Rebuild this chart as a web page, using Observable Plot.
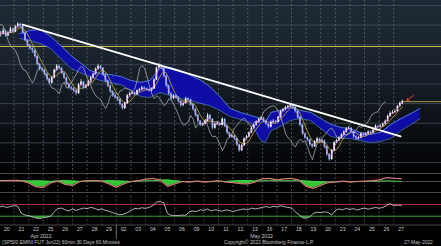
<!DOCTYPE html>
<html><head><meta charset="utf-8">
<script src="https://cdn.jsdelivr.net/npm/d3@7"></script>
<script src="https://cdn.jsdelivr.net/npm/@observablehq/plot@0.6"></script>
<style>
html,body{margin:0;padding:0;background:#000;}
#chart{position:relative;width:441px;height:246px;background:#000;overflow:hidden;font-family:"Liberation Sans",Arial,sans-serif;}
#bg{position:absolute;left:0;top:0;width:441px;height:172px;background:linear-gradient(#1f2a36 0%,#18212b 40%,#0a0d11 80%,#020304 100%);}
.p{position:absolute;left:0;display:block;}
.cap{position:absolute;font-size:4.9px;color:#c4c4c4;white-space:nowrap;line-height:1;}
</style></head><body>
<div id="chart"><div id="bg"></div></div>
<script>
// ---------- data ----------
const dayLabels = ["20","21","22","25","26","27","28","29","02","03","04","05","06","09","10","11","12","13","16","17","18","19","20","23","24","25","26","27"];
const monthLabels = ["Apr 2022","May 2022"];
const monthLabelDays = [2.85, 17.95];
const monthStartDays = [8];
const priceGrid = [3800,3900,4000,4100,4200,4300,4400,4500,4600];
const levelLine = [4391];
const barsPerDay = 6;
const barClose = [
 4455,4470,4445,4460,4480,4465, 4490,4505,4495,4460,4420,4395, 4380,4370,4340,4300,4275,4270,
 4250,4225,4205,4230,4270,4290, 4280,4255,4230,4200,4180,4175, 4165,4150,4195,4210,4180,4190,
 4210,4230,4250,4275,4290,4280, 4245,4215,4190,4160,4140,4130, 4120,4095,4075,4100,4140,4150,
 4155,4145,4165,4170,4180,4175, 4170,4165,4175,4220,4280,4295, 4280,4240,4190,4150,4125,4140,
 4130,4110,4090,4100,4125,4120, 4095,4070,4040,4010,3990,3995, 4010,4040,4020,3975,3995,4000,
 3990,4020,3985,3950,3930,3935, 3920,3890,3860,3885,3920,3930, 3950,3975,3990,4005,4020,4025,
 4010,3995,3980,4005,4010,4005, 4030,4060,4070,4080,4085,4090, 4080,4060,4030,3990,3945,3925,
 3915,3890,3880,3905,3920,3905, 3910,3880,3840,3815,3860,3900, 3910,3925,3940,3955,3970,3975,
 3955,3930,3920,3925,3945,3940, 3945,3955,3950,3965,3985,3980, 3985,3995,4010,4035,4050,4055,
 4060,4085,4100,4110];
const barHigh = [
 4468,4482,4474,4466,4490,4485, 4498,4512,4508,4498,4462,4425, 4402,4392,4378,4345,4305,4285,
 4275,4256,4230,4238,4276,4298, 4296,4284,4260,4234,4205,4188, 4182,4170,4202,4222,4214,4198,
 4218,4238,4256,4282,4298,4294, 4284,4252,4220,4195,4166,4148, 4136,4126,4100,4106,4146,4158,
 4162,4160,4170,4178,4188,4186, 4180,4176,4180,4226,4286,4305, 4300,4284,4244,4194,4155,4146,
 4146,4136,4114,4108,4132,4130, 4122,4100,4076,4046,4014,4002, 4018,4050,4046,4024,4002,4010,
 4004,4028,4024,3990,3954,3942, 3940,3926,3894,3892,3926,3938, 3956,3982,3996,4012,4026,4034,
 4030,4018,4000,4012,4018,4014, 4036,4066,4076,4086,4092,4098, 4094,4086,4064,4034,3996,3950,
 3930,3920,3896,3912,3928,3924, 3918,3914,3884,3846,3866,3906, 3918,3932,3948,3962,3978,3984,
 3978,3960,3936,3932,3952,3950, 3952,3962,3960,3972,3992,3990, 3992,4002,4016,4042,4058,4064,
 4068,4092,4108,4118];
const barLow = [
 4440,4450,4438,4442,4458,4460, 4462,4486,4485,4455,4415,4388, 4372,4355,4332,4292,4265,4260,
 4242,4215,4198,4200,4226,4265, 4272,4250,4224,4192,4172,4165, 4155,4142,4148,4190,4172,4176,
 4186,4204,4226,4245,4270,4272, 4238,4206,4182,4152,4132,4122, 4112,4088,4066,4070,4096,4134,
 4144,4138,4140,4158,4166,4168, 4162,4158,4160,4172,4218,4276, 4274,4232,4182,4142,4112,4120,
 4122,4102,4080,4085,4098,4112, 4088,4062,4032,4000,3982,3984, 3992,4006,4012,3966,3970,3990,
 3982,3986,3978,3942,3922,3924, 3912,3882,3852,3856,3880,3914, 3926,3946,3970,3986,4000,4014,
 4002,3988,3972,3976,3998,3998, 4002,4026,4056,4064,4074,4080, 4072,4052,4022,3982,3938,3918,
 3906,3882,3870,3876,3900,3898, 3900,3872,3832,3807,3812,3856, 3896,3906,3920,3936,3950,3966,
 3948,3922,3912,3914,3920,3932, 3934,3940,3942,3946,3962,3972, 3976,3980,3990,4006,4030,4044,
 4050,4056,4080,4094];
const chikouShiftDays = 1.15;
const cloudDays = [1.4,2.1,2.8,3.5,4.2,4.9,5.5,6.2,6.9,7.6,8.3,9.0,9.7,10.3,11.0,11.7,12.4,13.1,13.8,14.4,
 15.1,15.8,16.5,17.2,17.9,18.2,18.6,19.2,19.9,20.6,21.3,22.0,22.7,23.4,24.0,24.7,25.4,26.1,26.8,27.5,28.2,28.8];
const cloudTop = [4457,4473,4478,4442,4396,4345,4310,4269,4253,4248,4238,4218,4208,4218,4279,4284,4269,4243,4218,4187,
 4136,4075,4055,4040,4024,4004,4055,4065,4080,4065,4055,4024,3994,3978,3973,3953,3943,3953,3994,4024,4050,4075];
const cloudBottom = [4432,4422,4406,4381,4330,4279,4259,4238,4218,4208,4197,4167,4136,4131,4157,4141,4126,4116,4101,4090,
 4065,4034,4019,4004,3912,3902,3963,3983,4014,4024,4014,3973,3933,3922,3922,3912,3902,3907,3922,3963,3994,4024];
const trendDays = [1.58, 27.47];
const trendPrices = [4503, 3933];
const lastPrice = 4110;
const lastPriceDay = 27.67;
const arrowFrom = {day: 28.36, price: 4141};
const arrowTo = {day: 27.88, price: 4116};
const osc1Step = 0.5;
const osc1Pink = [63,63,64,62,50,30,27,50,60,42,37,57,62,63,60,45,27,45,58,62,70,74,66,32,45,58,55,60,
 55,58,62,55,52,47,45,55,72,74,66,72,74,65,32,22,38,52,56,60,55,58,60,62,66,78,75,72];
const osc1Green = [62,62,63,62,60,61,60,58,61,62,60,58,60,60,61,62,61,59,58,60,62,63,64,66,62,58,57,58,
 58,57,58,58,60,62,63,60,62,64,63,62,63,62,60,58,56,54,56,57,58,57,58,59,60,62,60,58];
const osc1Grid = [100, 58, 0];
const rsiStep = 0.25;
const rsi = [62,64,60,63, 66,64,40,34, 32,28,24,22, 25,27,30,45, 56,58,52,48, 55,50,54,58, 56,60,57,52,
 55,50,47,42, 38,35,37,42, 50,57,55,59, 57,60,66,78, 80,76,40,33, 33,32,34,33, 45,48,46,52, 50,55,48,52,
 50,47,52,49, 46,50,53,55, 52,58,55,57, 60,63,60,64, 62,66,63,60, 58,45,36,25, 23,28,40,44, 42,45,43,34,
 50,55,52,57, 53,56,51,55, 58,54,57,60, 57,60,66,73, 66,68,67];
const rsiHigh = 70, rsiLow = 30;

// ---------- tables ----------
const bars = barClose.map((c, i) => ({
  day: Math.floor(i / barsPerDay) + (i % barsPerDay + 0.5) / barsPerDay,
  open: i === 0 ? c : barClose[i - 1],
  close: c, high: barHigh[i], low: barLow[i],
  up: i === 0 || c >= barClose[i - 1]
}));
const cloud = cloudDays.map((d, i) => ({day: d, top: cloudTop[i], bottom: cloudBottom[i]}));
const trend = trendDays.map((d, i) => ({day: d, price: trendPrices[i]}));
const osc1 = osc1Pink.map((p, i) => ({day: i * osc1Step, pink: p, green: osc1Green[i]}));
const rsiData = rsi.map((v, i) => ({day: i * rsiStep, v}));
const gridDays = dayLabels.map((_, i) => i);
const labelData = dayLabels.map((t, i) => ({day: i + 0.5, t}));
const monthData = monthLabels.map((t, i) => ({day: monthLabelDays[i], t}));

const xDomain = [0.07, 30.27];
const W = 441;
const FONT = '"Liberation Sans", Arial, sans-serif';
const chart = document.getElementById("chart");
function place(svg, top) { svg.classList.add("p"); svg.style.top = top + "px"; chart.appendChild(svg); }
const vgrid = (opts = {}) => Plot.ruleX(gridDays, {stroke: "#656b73", strokeWidth: 0.7, strokeDasharray: "2,2", ...opts});

// ---------- main price panel ----------
const main = Plot.plot({
  width: W, height: 172, marginTop: 0, marginBottom: 0, marginLeft: 0, marginRight: 0,
  style: {background: "transparent", overflow: "visible"},
  x: {domain: xDomain, axis: null},
  y: {domain: [3749, 4625.5], axis: null},
  color: {type: "identity"},
  marks: [
    Plot.ruleY(priceGrid, {stroke: "#434e5a", strokeWidth: 0.8}),
    vgrid(),
    Plot.ruleY(levelLine, {stroke: "#c9b847", strokeWidth: 1}),
    Plot.areaY(cloud, {x: "day", y1: "bottom", y2: "top", fill: "#0e0ea6"}),
    Plot.lineY(cloud, {x: "day", y: "top", stroke: "#6fa8ee", strokeWidth: 0.7}),
    Plot.lineY(cloud, {x: "day", y: "bottom", stroke: "#4f7fd8", strokeWidth: 0.7}),
    Plot.lineY(bars, {x: d => d.day - chikouShiftDays, y: "close", stroke: "#a8a8a8", strokeWidth: 0.8}),
    Plot.lineY(bars, Plot.windowY({k: 5, anchor: "end", reduce: "mean"}, {x: "day", y: "close", stroke: "#c8b030", strokeWidth: 0.8})),
    Plot.ruleX(bars, {x: "day", y1: "low", y2: "high", stroke: d => d.up ? "#eef2ff" : "#6cbcff", strokeWidth: 0.8}),
    Plot.ruleX(bars, {x: "day", y1: "open", y2: "close", stroke: d => d.up ? "#ffffff" : "#8ccaff", strokeWidth: 1.6}),
    Plot.lineY(bars, Plot.windowY({k: 2, anchor: "end", reduce: "mean"}, {x: "day", y: "close", stroke: "#e07ad8", strokeWidth: 0.8})),
    Plot.lineY(trend, {x: "day", y: "price", stroke: "#ffffff", strokeWidth: 1.8}),
    Plot.ruleY([{p: lastPrice, a: lastPriceDay, b: 31}], {y: "p", x1: "a", x2: "b", stroke: "#b9a54a", strokeWidth: 0.9}),
    Plot.arrow([{x1: arrowFrom.day, y1: arrowFrom.price, x2: arrowTo.day, y2: arrowTo.price}],
      {x1: "x1", y1: "y1", x2: "x2", y2: "y2", stroke: "#d23a2a", strokeWidth: 1, headLength: 4})
  ]
});
place(main, 0);

// ---------- oscillator 1 ----------
const p1 = Plot.plot({
  width: W, height: 23, marginTop: 1, marginBottom: 3, marginLeft: 0, marginRight: 0,
  style: {background: "transparent", overflow: "visible"},
  x: {domain: xDomain, axis: null},
  y: {domain: [0, 100], axis: null},
  marks: [
    vgrid(),
    Plot.ruleY(osc1Grid, {stroke: "#5c5c5c", strokeWidth: 0.8}),
    Plot.areaY(osc1, {x: "day", y1: "pink", y2: d => Math.max(d.pink, d.green), fill: "#33c833"}),
    Plot.lineY(osc1, {x: "day", y: "green", stroke: "#44e044", strokeWidth: 0.9}),
    Plot.lineY(osc1, {x: "day", y: "pink", stroke: "#a8303c", strokeWidth: 1.2}),
    Plot.lineY(osc1, {x: "day", y: "pink", stroke: "#f0c0c0", strokeWidth: 0.6})
  ]
});
place(p1, 172);

// ---------- oscillator 2 (RSI) ----------
const p2 = Plot.plot({
  width: W, height: 30, marginTop: 0.25, marginBottom: 0.5, marginLeft: 0, marginRight: 0,
  style: {background: "transparent", overflow: "visible"},
  x: {domain: xDomain, axis: null},
  y: {domain: [0, 100], axis: null},
  marks: [
    vgrid(),
    Plot.ruleY([0], {stroke: "#5c5c5c", strokeWidth: 0.8}),
    Plot.ruleY([rsiHigh], {stroke: "#a8304a", strokeWidth: 1}),
    Plot.ruleY([rsiLow], {stroke: "#3e9a3e", strokeWidth: 1}),
    Plot.areaY(rsiData, {x: "day", y1: rsiLow, y2: d => Math.min(d.v, rsiLow), fill: "#3cae3c"}),
    Plot.lineY(rsiData, {x: "day", y: "v", stroke: "#dcdcdc", strokeWidth: 0.8})
  ]
});
place(p2, 195);

// ---------- date axis ----------
const ax = Plot.plot({
  width: W, height: 21, marginTop: 0, marginBottom: 0, marginLeft: 0, marginRight: 0,
  style: {background: "transparent", overflow: "visible", fontFamily: FONT},
  x: {domain: xDomain, axis: null},
  marks: [
    Plot.ruleX(monthStartDays, {stroke: "#8a8a8a", strokeWidth: 0.8, insetBottom: 7}),
    Plot.text(labelData, {x: "day", text: "t", frameAnchor: "top", dy: 1.6, fill: "#c8c8c8", fontSize: 5.2}),
    Plot.text(monthData, {x: "day", text: "t", frameAnchor: "top", dy: 8.4, fill: "#c8c8c8", fontSize: 5.2})
  ]
});
place(ax, 225);

// ---------- captions ----------
const caps = [
  {t: "(SP500 EMINI FUT  Jun22) 60min 30 Days 60 Minutes", l: 2},
  {t: "Copyright\u00a9 2022 Bloomberg Finance L.P.", l: 224},
  {t: "27-May-2022", l: 404}
];
for (const c of caps) {
  const s = document.createElement("div");
  s.className = "cap"; s.textContent = c.t; s.style.left = c.l + "px"; s.style.top = "240.5px";
  chart.appendChild(s);
}
</script></body></html>
